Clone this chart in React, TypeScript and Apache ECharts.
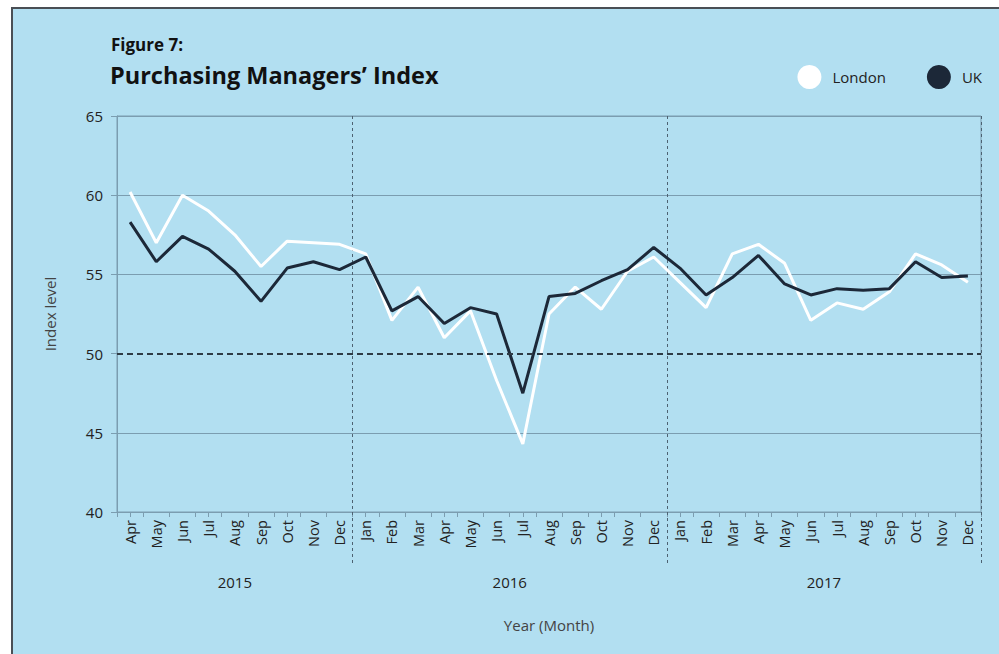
import React, { useEffect, useRef } from "react";
import * as echarts from "echarts";

const years = ["2015", "2016", "2017"];
const monthsByYear = [
  ["Apr", "May", "Jun", "Jul", "Aug", "Sep", "Oct", "Nov", "Dec"],
  ["Jan", "Feb", "Mar", "Apr", "May", "Jun", "Jul", "Aug", "Sep", "Oct", "Nov", "Dec"],
  ["Jan", "Feb", "Mar", "Apr", "May", "Jun", "Jul", "Aug", "Sep", "Oct", "Nov", "Dec"],
];
const london = [
  60.2, 57.0, 60.0, 59.0, 57.5, 55.5, 57.1, 57.0, 56.9,
  56.3, 52.1, 54.2, 51.0, 52.7, 48.3, 44.3, 52.5, 54.2, 52.8, 55.2, 56.1,
  54.5, 52.9, 56.3, 56.9, 55.7, 52.1, 53.2, 52.8, 53.9, 56.3, 55.6, 54.5,
];
const uk = [
  58.3, 55.8, 57.4, 56.6, 55.2, 53.3, 55.4, 55.8, 55.3,
  56.1, 52.7, 53.6, 51.9, 52.9, 52.5, 47.5, 53.6, 53.8, 54.6, 55.3, 56.7,
  55.4, 53.7, 54.8, 56.2, 54.4, 53.7, 54.1, 54.0, 54.1, 55.8, 54.8, 54.9,
];
const yTicks = [40, 45, 50, 55, 60, 65];
const thresholdValue = 50;

const FONT = "'Open Sans', Lato, sans-serif";
const GRID = "#7b9db0";
const DARK = "#1c2838";

export default function App() {
  const ref = useRef<HTMLDivElement>(null);
  useEffect(() => {
    if (!ref.current) return;
    const chart = echarts.init(ref.current, null, { renderer: "svg" });

    const categories: string[] = [];
    const yearStart: number[] = [];
    monthsByYear.forEach((ms, yi) => {
      yearStart.push(categories.length);
      ms.forEach((m) => categories.push(years[yi] + " " + m));
    });
    const yearCenters = monthsByYear.map((ms, yi) => yearStart[yi] + (ms.length - 1) / 2);
    const boundaryIdx = yearStart.slice(1);

    const n = categories.length;
    const monthLabel = (v: string) => v.split(" ")[1];

    const option: any = {
      animation: false,
      backgroundColor: "transparent",
      textStyle: { fontFamily: FONT },
      title: [
        {
          text: "Figure 7:",
          left: 111,
          top: 36,
          padding: 0,
          textStyle: { fontFamily: FONT, fontSize: 17, fontWeight: "bold", color: "#111" },
        },
        {
          text: "Purchasing Managers’ Index",
          left: 110,
          top: 63,
          padding: 0,
          textStyle: { fontFamily: FONT, fontSize: 23.5, fontWeight: "bold", color: "#111" },
        },
      ],
      legend: {
        right: 12,
        top: 60,
        icon: "circle",
        itemWidth: 24,
        itemHeight: 24,
        itemGap: 41,
        textStyle: { fontFamily: FONT, fontSize: 15, color: "#222", padding: [0, 0, 0, 6] },
        data: ["London", "UK"],
      },
      grid: {
        left: 117,
        right: 18,
        top: 116,
        bottom: 142,
        show: true,
        borderColor: GRID,
        borderWidth: 1,
        backgroundColor: "transparent",
      },
      xAxis: [
        {
          type: "category",
          data: categories,
          boundaryGap: true,
          position: "bottom",
          axisLine: { show: true, onZero: false, lineStyle: { color: GRID, width: 1 } },
          axisTick: { show: true, length: 5, lineStyle: { color: GRID } },
          axisLabel: {
            interval: 0,
            rotate: 90,
            margin: 8,
            fontSize: 14.5,
            color: "#222",
            fontFamily: FONT,
            formatter: monthLabel,
          },
          splitLine: {
            show: true,
            interval: (i: number) => boundaryIdx.indexOf(i) >= 0,
            lineStyle: { color: "#4d6272", type: [3, 3], width: 1 },
          },
          name: "Year (Month)",
          nameLocation: "middle",
          nameGap: 105,
          nameTextStyle: { fontFamily: FONT, fontSize: 15, color: "#444" },
        },
        {
          type: "category",
          data: categories,
          boundaryGap: true,
          position: "bottom",
          axisLine: { show: false, onZero: false },
          axisTick: { show: true, alignWithLabel: true, length: 5, lineStyle: { color: GRID } },
          axisLabel: { show: false },
          splitLine: { show: false },
        },
        {
          type: "category",
          data: categories,
          boundaryGap: true,
          position: "bottom",
          axisLine: { show: false, onZero: false },
          axisTick: {
            show: true,
            length: 53,
            interval: (i: number) => boundaryIdx.indexOf(i) >= 0,
            lineStyle: { color: "#4d6272", type: [3, 3], width: 1 },
          },
          axisLabel: { show: false },
          splitLine: { show: false },
        },
        {
          type: "value",
          min: -0.5,
          max: n - 0.5,
          interval: 0.5,
          position: "bottom",
          axisLine: { show: false, onZero: false },
          axisTick: { show: false },
          splitLine: { show: false },
          axisLabel: {
            margin: 62,
            fontSize: 15,
            color: "#222",
            fontFamily: FONT,
            showMinLabel: true,
            showMaxLabel: true,
            formatter: (v: number) => {
              const k = yearCenters.findIndex((c) => Math.abs(c - v) < 1e-6);
              return k >= 0 ? years[k] : "";
            },
          },
        },
      ],
      yAxis: {
        type: "value",
        min: yTicks[0],
        max: yTicks[yTicks.length - 1],
        interval: yTicks[1] - yTicks[0],
        axisLine: { show: true, onZero: false, lineStyle: { color: GRID } },
        axisTick: { show: true, length: 6, lineStyle: { color: GRID } },
        axisLabel: { margin: 14, fontSize: 15, color: "#222", fontFamily: FONT },
        splitLine: {
          show: true,
          lineStyle: {
            color: yTicks.map((t) => (t === thresholdValue ? "rgba(0,0,0,0)" : GRID)),
            width: 1,
          },
        },
        name: "Index level",
        nameLocation: "middle",
        nameGap: 60,
        nameTextStyle: { fontFamily: FONT, fontSize: 15, color: "#444" },
      },
      series: [
        {
          name: "London",
          type: "line",
          data: london,
          xAxisIndex: 0,
          symbol: "none",
          lineStyle: { color: "#ffffff", width: 3 },
          itemStyle: { color: "#ffffff" },
          markLine: {
            silent: true,
            symbol: "none",
            label: { show: false },
            lineStyle: { color: "#2e3a44", type: [6, 4], width: 2 },
            data: [{ yAxis: thresholdValue }],
          },
        },
        {
          name: "UK",
          type: "line",
          data: uk,
          xAxisIndex: 0,
          symbol: "none",
          lineStyle: { color: DARK, width: 3 },
          itemStyle: { color: DARK },
        },
      ],
    };
    chart.setOption(option);
    return () => chart.dispose();
  }, []);

  return (
    <div
      style={{
        position: "fixed",
        left: 0,
        top: 0,
        width: 999,
        height: 654,
        background: "#ffffff",
        overflow: "hidden",
      }}
    >
      <div
        style={{
          position: "absolute",
          left: 11,
          top: 7,
          width: 1010,
          height: 670,
          borderLeft: "2px solid #4a4f55",
          borderTop: "2px solid #4a4f55",
          background: "#b2dff1",
        }}
      />
      <div ref={ref} style={{ position: "absolute", left: 0, top: 0, width: 999, height: 654 }} />
    </div>
  );
}
